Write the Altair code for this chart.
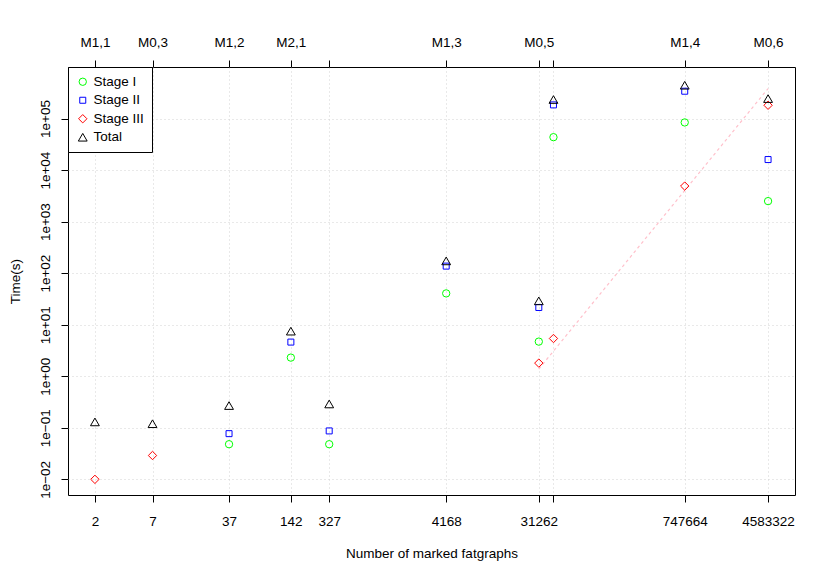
import altair as alt
import pandas as pd
import json

# ---- data ----
n_marked = [2, 7, 37, 142, 327, 4168, 31262, 43000, 747664, 4583322]
top_labels = ["M1,1", "M0,3", "M1,2", "M2,1", "", "M1,3", "M0,5", "", "M1,4", "M0,6"]
bottom_labels = ["2", "7", "37", "142", "327", "4168", "31262", "", "747664", "4583322"]

stage1 = [None, None, 0.048, 2.3, 0.048, 40.5, 4.7, 43500, 84000, 2500]
stage2 = [None, None, 0.077, 4.6, 0.087, 137, 21.6, 184000, 339000, 16000]
stage3 = [0.01, 0.029, None, None, None, None, 1.8, 5.4, 4900, 181000]
total = [0.13, 0.12, 0.27, 7.5, 0.29, 173, 29, 234000, 443000, 244000]

fit_x = [31262, 4583322]
fit_y = [1.38, 382000]

series_names = ["Stage I", "Stage II", "Stage III", "Total"]
series_colors = ["#00FF00", "#0000FF", "#FF0000", "#000000"]
series_shapes = ["circle", "square", "diamond", "triangle-up"]
series_sizes = [54, 36, 70, 78]

y_ticks = [0.01, 0.1, 1, 10, 100, 1000, 10000, 100000]
y_tick_labels = ["1e\u221202", "1e\u221201", "1e+00", "1e+01", "1e+02", "1e+03", "1e+04", "1e+05"]

# ---- tables ----
rows = []
for name, vals in zip(series_names, [stage1, stage2, stage3, total]):
    for n, v in zip(n_marked, vals):
        if v is not None:
            rows.append({"n": n, "time": v, "series": name})
points_df = pd.DataFrame(rows)
fit_df = pd.DataFrame({"n": fit_x, "time": fit_y})
ticks_df = pd.DataFrame({"n": n_marked})

font = "Liberation Sans"
fs = 13.5

x_scale = alt.Scale(type="log", domain=[1.1133, 8.2336e6], nice=False)
y_scale = alt.Scale(type="log", domain=[0.004966, 1.0e6], nice=False)


def label_expr(values, labels):
    return "".join(f"datum.value == {v} ? '{l}' : " for v, l in zip(values, labels)) + "''"


bottom_axis = alt.Axis(
    values=n_marked, labelExpr=label_expr(n_marked, bottom_labels),
    title="Number of marked fatgraphs", orient="bottom",
    grid=True, gridColor="#D3D3D3", gridDash=[1, 3], gridWidth=1,
    domain=False, ticks=True, tickColor="black", tickSize=7, tickWidth=1,
    labelPadding=12, labelOverlap=False, labelFlush=False,
    labelFont=font, labelFontSize=fs, labelColor="black",
    titleFont=font, titleFontSize=fs, titleFontWeight="normal", titleColor="black",
    titlePadding=19,
)

top_axis = alt.Axis(
    values=n_marked, labelExpr=label_expr(n_marked, top_labels),
    title=None, orient="top", grid=False,
    domain=False, ticks=True, tickColor="black", tickSize=7, tickWidth=1,
    labelPadding=11, labelOverlap=False, labelFlush=False,
    labelFont=font, labelFontSize=fs, labelColor="black",
)

y_axis = alt.Axis(
    values=y_ticks,
    labelExpr=json.dumps(y_tick_labels, ensure_ascii=False) + "[round(log(datum.value)/LN10)+2]",
    title="Time(s)", orient="left",
    grid=True, gridColor="#D3D3D3", gridDash=[1, 3], gridWidth=1,
    domain=False, ticks=True, tickColor="black", tickSize=7, tickWidth=1,
    labelAngle=-90, labelAlign="center", labelBaseline="bottom",
    labelPadding=9, labelOverlap=False, labelFlush=False,
    labelFont=font, labelFontSize=fs, labelColor="black",
    titleFont=font, titleFontSize=fs, titleFontWeight="normal", titleColor="black",
    titlePadding=16,
)

points = alt.Chart(points_df).mark_point(filled=False, strokeWidth=1, opacity=1).encode(
    x=alt.X("n:Q", scale=x_scale, axis=bottom_axis),
    y=alt.Y("time:Q", scale=y_scale, axis=y_axis),
    color=alt.Color("series:N", scale=alt.Scale(domain=series_names, range=series_colors),
                    legend=alt.Legend(title=None, orient="none", legendX=0, legendY=0,
                                      strokeColor="black", fillColor="white", padding=8,
                                      cornerRadius=0, rowPadding=3.5, labelOffset=4,
                                      labelFont=font, labelFontSize=fs, labelColor="black",
                                      symbolStrokeWidth=1, symbolFillColor="white")),
    shape=alt.Shape("series:N", scale=alt.Scale(domain=series_names, range=series_shapes),
                    legend=alt.Legend(title=None, orient="none", legendX=0, legendY=0)),
    size=alt.Size("series:O", scale=alt.Scale(type="ordinal", domain=series_names, range=series_sizes),
                  legend=alt.Legend(title=None, orient="none", legendX=0, legendY=0)),
)

fit = alt.Chart(fit_df).mark_line(color="#FFC0CB", strokeDash=[3, 3], strokeWidth=1.2).encode(
    x=alt.X("n:Q", scale=x_scale, axis=None),
    y=alt.Y("time:Q", scale=y_scale, axis=None),
)

top = alt.Chart(ticks_df).mark_point(opacity=0).encode(
    x=alt.X("n:Q", scale=x_scale, axis=top_axis),
)

chart = alt.layer(fit, points, top).resolve_axis(x="independent", y="independent").properties(
    width=727, height=428,
    autosize=alt.AutoSizeParams(type="none"),
    padding={"left": 60, "top": 59, "right": 27, "bottom": 70},
).configure(background="white").configure_view(stroke="black", strokeWidth=1)

chart.save("out.html", embed_options={"renderer": "svg", "actions": False})
